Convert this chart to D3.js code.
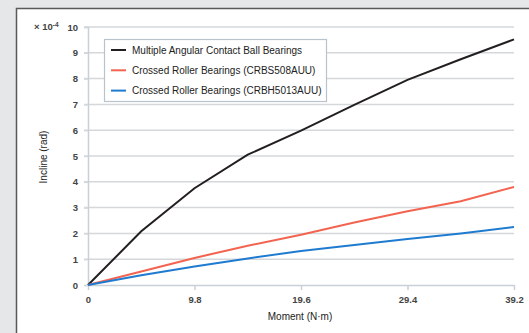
<!DOCTYPE html>
<meta charset="utf-8">
<style>
body { margin: 0; background: #e6e7e8; }
svg { display: block; font-family: 'Liberation Sans', Arial, sans-serif; }
.grid line { stroke: #d5d8db; stroke-width: 1.5px; }
.tick text { fill: #444; font-weight: bold; font-size: 9.5px; }
.legend text { font-size: 10px; fill: #222; }
</style>
<svg id="chart" width="529" height="333"></svg>
<script src="https://d3js.org/d3.v7.min.js"></script>
<script>

var moments = [0, 4.9, 9.8, 14.7, 19.6, 24.5, 29.4, 34.3, 39.2];
var xTicks = [0, 9.8, 19.6, 29.4, 39.2];
var yTicks = [0, 1, 2, 3, 4, 5, 6, 7, 8, 9, 10];
var seriesNames = [
  "Multiple Angular Contact Ball Bearings",
  "Crossed Roller Bearings (CRBS508AUU)",
  "Crossed Roller Bearings (CRBH5013AUU)"
];
var ballBearing = [0, 2.08, 3.75, 5.05, 5.98, 6.98, 7.95, 8.75, 9.52];
var crbs508 = [0, 0.52, 1.05, 1.52, 1.95, 2.42, 2.86, 3.25, 3.8];
var crbh5013 = [0, 0.38, 0.72, 1.03, 1.32, 1.55, 1.78, 2.0, 2.25];
var colors = ["#231f20", "#f26450", "#1f7bd0"];

var svg = d3.select("#chart");

// white panel
svg.append("rect")
    .attr("x", 16.5).attr("y", 8.5)
    .attr("width", 600).attr("height", 400)
    .attr("fill", "#fff")
    .attr("stroke", "#5a5a5a")
    .attr("stroke-width", 1.5);

var x = d3.scaleLinear().domain([0, 39.2]).range([88, 514]);
var y = d3.scaleLinear().domain([0, 10]).range([285, 27]);

// gridlines
svg.append("g").attr("class", "grid")
  .selectAll("line")
  .data(yTicks.slice(1))
  .enter().append("line")
    .attr("x1", 84).attr("x2", 514)
    .attr("y1", function(d) { return y(d); })
    .attr("y2", function(d) { return y(d); });

var yAxis = svg.append("g")
    .attr("transform", "translate(88,0)")
    .call(d3.axisLeft(y).tickValues(yTicks).tickSize(4).tickPadding(6).tickFormat(d3.format("d")));
yAxis.select(".domain").attr("stroke", "#c9d0d8").attr("stroke-width", 1.5);
yAxis.selectAll(".tick line").attr("stroke", "#d5d8db").attr("stroke-width", 1.5);

var xAxis = svg.append("g")
    .attr("transform", "translate(0,285)")
    .call(d3.axisBottom(x).tickValues(xTicks).tickSize(5).tickPadding(6).tickSizeOuter(0)
      .tickFormat(function(d) { return d === 0 ? "0" : d3.format(".1f")(d); }));
xAxis.select(".domain").attr("stroke", "#c9d0d8").attr("stroke-width", 1.5);
xAxis.selectAll(".tick line").attr("stroke", "#c9d0d8").attr("stroke-width", 1.5);

// exponent label
var expo = svg.append("text")
    .attr("x", 34).attr("y", 30)
    .attr("font-size", 9.5).attr("font-weight", "bold").attr("fill", "#444");
expo.append("tspan").text("× 10");
expo.append("tspan").attr("dy", -3.5).attr("font-size", 6.5).text("-4");

svg.append("text")
    .attr("transform", "translate(47,157) rotate(-90)")
    .attr("text-anchor", "middle")
    .attr("font-size", 10).attr("fill", "#222")
    .text("Incline (rad)");

svg.append("text")
    .attr("x", 300).attr("y", 320)
    .attr("text-anchor", "middle")
    .attr("font-size", 10).attr("fill", "#222")
    .text("Moment (N·m)");

// lines
var line = d3.line()
    .x(function(d, i) { return x(moments[i]); })
    .y(function(d) { return y(d); });

[ballBearing, crbs508, crbh5013].forEach(function(s, i) {
  svg.append("path")
      .attr("d", line(s))
      .attr("fill", "none")
      .attr("stroke", colors[i])
      .attr("stroke-width", 2);
});

// legend
var legend = svg.append("g").attr("class", "legend");
legend.append("rect")
    .attr("x", 104.5).attr("y", 39.5)
    .attr("width", 222).attr("height", 62)
    .attr("fill", "#fff")
    .attr("stroke", "#b9c3cc")
    .attr("stroke-width", 1.2);
seriesNames.forEach(function(name, i) {
  var ly = 50 + i * 20.3;
  legend.append("line")
      .attr("x1", 111).attr("x2", 126)
      .attr("y1", ly).attr("y2", ly)
      .attr("stroke", colors[i]).attr("stroke-width", 2);
  legend.append("text")
      .attr("x", 132).attr("y", ly + 3.5)
      .text(name);
});

</script>
